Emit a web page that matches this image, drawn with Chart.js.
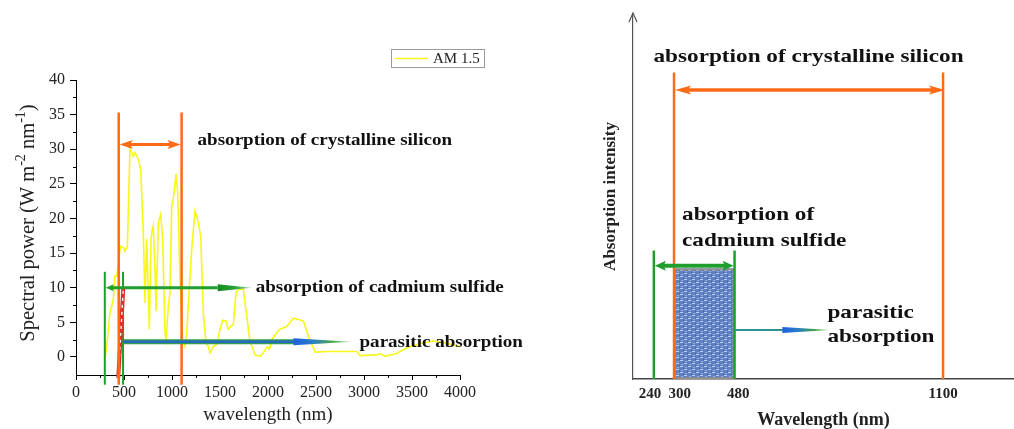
<!DOCTYPE html>
<html>
<head>
<meta charset="utf-8">
<script src="https://cdn.jsdelivr.net/npm/chart.js@4.4.1/dist/chart.umd.min.js"></script>
<style>
  html, body { margin: 0; padding: 0; background: #fff; }
  body { width: 1014px; height: 429px; position: relative; overflow: hidden; }
  canvas { position: absolute; top: 0; }
  #spectrum { left: 0; }
  #schematic { left: 560px; }
</style>
</head>
<body>
<canvas id="spectrum" width="560" height="429"></canvas>
<canvas id="schematic" width="454" height="429"></canvas>
<script>
const FONT = "'Liberation Serif', 'Times New Roman', serif";

// AM 1.5 spectrum (nm, W m-2 nm-1)
const wavelength = [305, 320, 354, 389, 406, 424, 458, 465, 493, 510, 535, 562, 580, 597, 615, 649, 674,
  701, 719, 736, 764, 781, 794, 805, 823, 833, 858, 882, 903, 927, 938, 962, 979, 997, 1014, 1042,
  1059, 1083, 1111, 1135, 1153, 1205, 1240, 1274, 1299, 1326, 1354, 1378, 1396, 1430, 1466, 1500,
  1528, 1562, 1587, 1611, 1639, 1667, 1691, 1743, 1812, 1865, 1917, 1951, 1993, 2014, 2038, 2090,
  2125, 2194, 2264, 2316, 2368, 2420, 2490, 2611, 2924, 2958, 3132, 3167, 3219, 3340, 3375, 3479,
  3583, 3722, 3861, 4000];
const spectralPower = [0.1, 1.5, 6.4, 8.3, 11.7, 11.7, 15.5, 16, 15.8, 15.3, 16, 30, 29.6, 29, 29.5, 28.6, 27.1,
  18, 7.8, 17, 4, 17, 18.4, 18.9, 12.7, 6.6, 19.4, 20.6, 17, 3.5, 2.5, 7.3, 9.3, 21.8, 22.8, 26.4,
  23.8, 11.2, 2.5, 1.5, 3.5, 15.5, 21.1, 19.4, 17.5, 6.4, 2, 1.5, 0.6, 1.5, 1.8, 4,
  5.3, 5.2, 4, 4.4, 4.7, 9.3, 9.8, 9.8, 2.3, 0.3, 0.1, 0.6, 1.5, 1.1, 2.5, 3.5,
  4, 4.4, 5.6, 5.4, 5.2, 3, 0.7, 0.8, 0.8, 0.2, 0.3, 0.5, 0.1, 0.5, 0.8, 1.5,
  1.9, 2.3, 2.0, 1.5];
const yTicksLeft = [0, 5, 10, 15, 20, 25, 30, 35, 40];

// left panel markers (nm / W m-2 nm-1)
const siliconSpan = [445, 1100];
const siliconArrowLevel = 30.7;
const siliconLineTop = 35.3;
const cdsSpan = [300, 490];
const cdsArrowLevel = 10;
const cdsLineTop = 12.3;
const cdsArrowEnd = 1830;
const parasiticLevel = 2.2;
const parasiticEnd = 2870;
const markerBottom = -4;
const hatchFrom = [440, -3];
const hatchTo = [493, 10];

// right panel (schematic, wavelength in nm, intensity in arbitrary units)
const rightTicks = [240, 300, 480, 1100];
const rightTickText = {240: '240  ', 300: '   300', 480: '  480', 1100: '1100'};
const rSilicon = [300, 1100];
const rSiliconTop = 84;
const rSiliconArrow = 79.2;
const rCds = [240, 480];
const rCdsTop = 35.2;
const rCdsArrow = 31;
const rBand = [300, 480];
const rBandTop = 30.3;
const rParasiticLevel = 13.4;
const rParasiticEnd = 765;

const ORANGE = '#ff6a16';
const GREEN = '#1f9e2c';
const STRETCH = 1.19; // the bold labels in the figure are drawn wide

function line(ctx, x1, y1, x2, y2) {
  ctx.beginPath(); ctx.moveTo(x1, y1); ctx.lineTo(x2, y2); ctx.stroke();
}

function wideText(ctx, text, x, y) {
  ctx.save();
  ctx.translate(x, y);
  ctx.scale(STRETCH, 1);
  ctx.fillText(text, 0, 0);
  ctx.restore();
}

function head(ctx, tipX, y, dir, len, half, fill) {
  ctx.beginPath();
  ctx.moveTo(tipX, y);
  ctx.lineTo(tipX - dir * len, y - half);
  ctx.lineTo(tipX - dir * len * 0.8, y);
  ctx.lineTo(tipX - dir * len, y + half);
  ctx.closePath();
  ctx.fillStyle = fill;
  ctx.fill();
}

function taperHead(ctx, x1, x2, y, half, stops) {
  const g = ctx.createLinearGradient(x1, 0, x2, 0);
  stops.forEach((c, i) => g.addColorStop(i / (stops.length - 1), c));
  ctx.beginPath();
  ctx.moveTo(x1, y - half);
  ctx.lineTo(x2, y);
  ctx.lineTo(x1, y + half);
  ctx.closePath();
  ctx.fillStyle = g;
  ctx.fill();
}

const leftMarks = {
  id: 'leftMarks',
  afterDraw(chart) {
    const {ctx, scales: {x, y}} = chart;
    const X = v => x.getPixelForValue(v);
    const Y = v => y.getPixelForValue(v);
    ctx.save();

    // minor ticks
    ctx.strokeStyle = '#000';
    ctx.lineWidth = 1;
    for (let v = 250; v < 4000; v += 500) line(ctx, Math.round(X(v)) + 0.5, y.bottom, Math.round(X(v)) + 0.5, y.bottom + 3);
    for (let v = 2.5; v < 40; v += 5) line(ctx, x.left - 3, Math.round(Y(v)) + 0.5, x.left, Math.round(Y(v)) + 0.5);

    // green (CdS) markers
    ctx.strokeStyle = GREEN;
    ctx.lineWidth = 2;
    cdsSpan.forEach(v => line(ctx, X(v), Y(cdsLineTop), X(v), Y(markerBottom)));

    // hatched strip
    ctx.lineWidth = 4;
    ctx.strokeStyle = '#d8322a';
    line(ctx, X(hatchFrom[0]), Y(hatchFrom[1]), X(hatchTo[0]), Y(hatchTo[1]));
    ctx.lineWidth = 1.3;
    ctx.strokeStyle = '#fff';
    ctx.setLineDash([3, 4]);
    line(ctx, X(hatchFrom[0]), Y(hatchFrom[1]), X(hatchTo[0]), Y(hatchTo[1]));
    ctx.setLineDash([]);

    // orange (silicon) markers
    ctx.strokeStyle = ORANGE;
    ctx.lineWidth = 2.5;
    siliconSpan.forEach(v => line(ctx, X(v), Y(siliconLineTop), X(v), Y(markerBottom)));
    const sy = Y(siliconArrowLevel);
    ctx.lineWidth = 3;
    line(ctx, X(siliconSpan[0]) + 8, sy, X(siliconSpan[1]) - 8, sy);
    head(ctx, X(siliconSpan[0]) + 1, sy, -1, 13, 4.5, ORANGE);
    head(ctx, X(siliconSpan[1]) - 1, sy, 1, 13, 4.5, ORANGE);

    // CdS arrow
    const cy = Y(cdsArrowLevel);
    const cEnd = X(cdsArrowEnd);
    ctx.strokeStyle = GREEN;
    ctx.lineWidth = 3;
    line(ctx, X(cdsSpan[0]) + 6, cy, cEnd - 34, cy);
    head(ctx, X(cdsSpan[0]) + 1, cy, -1, 8, 3.5, GREEN);
    taperHead(ctx, cEnd - 34, cEnd, cy, 3.5, ['#138a1c', '#2aa33a', '#a6dca6']);

    // parasitic arrow
    const py = Y(parasiticLevel);
    const pEnd = X(parasiticEnd);
    ctx.lineWidth = 5;
    ctx.strokeStyle = '#2f9f4a';
    line(ctx, X(cdsSpan[1]), py, pEnd - 56, py);
    ctx.lineWidth = 2.5;
    ctx.strokeStyle = '#2a69c2';
    line(ctx, X(cdsSpan[1]), py, pEnd - 56, py);
    taperHead(ctx, pEnd - 58, pEnd, py, 3.5, ['#1f5fe0', '#2a7fc4', '#4aa84a', '#b5e0b5']);

    // labels
    ctx.fillStyle = '#111';
    ctx.font = 'bold 16px ' + FONT;
    ctx.textBaseline = 'middle';
    ctx.textAlign = 'left';
    wideText(ctx, 'absorption of crystalline silicon', X(siliconSpan[1]) + 16, sy - 3.5);
    wideText(ctx, 'absorption of cadmium sulfide', cEnd + 4, cy);
    wideText(ctx, 'parasitic absorption', pEnd + 8, py + 1);

    // legend
    ctx.strokeStyle = '#9a9a9a';
    ctx.lineWidth = 1;
    ctx.strokeRect(391.5, 49.5, 93, 18);
    ctx.strokeStyle = chart.data.datasets[0].borderColor;
    ctx.lineWidth = 1.5;
    line(ctx, 395, 58.5, 428, 58.5);
    ctx.font = '15px ' + FONT;
    ctx.fillStyle = '#222';
    ctx.fillText(chart.data.datasets[0].label, 433, 59);

    // y title with superscripts
    const parts = [['Spectral power (W m', 0], ['-2', 1], [' nm', 0], ['-1', 1], [')', 0]];
    const big = '20.5px ' + FONT, small = '14px ' + FONT;
    let total = 0;
    parts.forEach(([t, s]) => { ctx.font = s ? small : big; total += ctx.measureText(t).width; });
    ctx.translate(29, 223);
    ctx.rotate(-Math.PI / 2);
    let pos = -total / 2;
    parts.forEach(([t, s]) => {
      ctx.font = s ? small : big;
      ctx.fillText(t, pos, s ? -7.5 : 0);
      pos += ctx.measureText(t).width;
    });
    ctx.restore();
  }
};

new Chart(document.getElementById('spectrum'), {
  type: 'line',
  data: {
    datasets: [{
      label: 'AM 1.5',
      data: wavelength.map((w, i) => ({x: w, y: spectralPower[i]})),
      borderColor: '#f7f71c',
      borderWidth: 1.6,
      pointRadius: 0,
      tension: 0,
      fill: false
    }]
  },
  options: {
    responsive: false,
    animation: false,
    layout: {padding: {left: 0, top: 80, right: 100, bottom: 0}},
    plugins: {legend: {display: false}, tooltip: {enabled: false}},
    scales: {
      x: {
        type: 'linear',
        min: 0,
        max: 4000,
        afterFit: s => { s.height = 54; },
        border: {display: true, color: '#000', width: 1},
        grid: {drawOnChartArea: false, tickLength: 5, tickColor: '#000'},
        ticks: {stepSize: 500, padding: 3, color: '#222', font: {family: FONT, size: 16}, maxRotation: 0,
          callback: v => String(v)},
        title: {display: true, text: 'wavelength (nm)', color: '#222', font: {family: FONT, size: 19}, padding: {top: 0, bottom: 3}}
      },
      y: {
        min: -2.6,
        max: 40,
        afterFit: s => { s.width = 76; },
        afterBuildTicks: s => { s.ticks = yTicksLeft.map(v => ({value: v})); },
        border: {display: true, color: '#000', width: 1},
        grid: {drawOnChartArea: false, tickLength: 6, tickColor: '#000'},
        ticks: {padding: 5, color: '#222', font: {family: FONT, size: 16}}
      }
    }
  },
  plugins: [leftMarks]
});

function texture(ctx) {
  const c = document.createElement('canvas');
  c.width = 8; c.height = 6;
  const g = c.getContext('2d');
  g.fillStyle = '#5f80c2'; g.fillRect(0, 0, 8, 6);
  g.fillStyle = '#bccff0'; g.fillRect(0, 0, 3, 1); g.fillRect(4, 3, 3, 1);
  g.fillStyle = '#93ade0'; g.fillRect(5, 1, 2, 1); g.fillRect(1, 4, 2, 1);
  g.fillStyle = '#3f5f9f'; g.fillRect(3, 2, 1, 1); g.fillRect(7, 5, 1, 1);
  return ctx.createPattern(c, 'repeat');
}

const rightMarks = {
  id: 'rightMarks',
  afterDraw(chart) {
    const {ctx, scales: {x, y}} = chart;
    const X = v => x.getPixelForValue(v);
    const Y = v => y.getPixelForValue(v);
    ctx.save();

    // y axis arrow
    ctx.strokeStyle = '#555';
    ctx.lineWidth = 1.2;
    ctx.beginPath();
    ctx.moveTo(x.left - 4, y.top + 8);
    ctx.lineTo(x.left, y.top - 1);
    ctx.lineTo(x.left + 4, y.top + 8);
    ctx.stroke();

    // CdS band
    ctx.fillStyle = texture(ctx);
    ctx.fillRect(X(rBand[0]), Y(rBandTop), X(rBand[1]) - X(rBand[0]), Y(0) - Y(rBandTop));
    ctx.strokeStyle = '#8d8d8d';
    ctx.lineWidth = 2;
    ctx.strokeRect(X(rBand[0]) + 1, Y(rBandTop) + 1, X(rBand[1]) - X(rBand[0]) - 2, Y(0) - Y(rBandTop) - 2);

    // silicon markers
    ctx.strokeStyle = ORANGE;
    ctx.lineWidth = 2.5;
    rSilicon.forEach(v => line(ctx, X(v), Y(rSiliconTop), X(v), Y(0)));
    const sy = Y(rSiliconArrow);
    ctx.lineWidth = 3.5;
    line(ctx, X(rSilicon[0]) + 10, sy, X(rSilicon[1]) - 10, sy);
    head(ctx, X(rSilicon[0]) + 1, sy, -1, 16, 4.5, ORANGE);
    head(ctx, X(rSilicon[1]) + 2, sy, 1, 16, 4.5, ORANGE);

    // CdS markers
    ctx.strokeStyle = GREEN;
    ctx.lineWidth = 2.5;
    rCds.forEach(v => line(ctx, X(v), Y(rCdsTop), X(v), Y(0)));
    const cy = Y(rCdsArrow);
    ctx.lineWidth = 4;
    line(ctx, X(rCds[0]) + 8, cy, X(rCds[1]) - 8, cy);
    head(ctx, X(rCds[0]) + 1, cy, -1, 11, 5, GREEN);
    head(ctx, X(rCds[1]) - 1, cy, 1, 11, 5, GREEN);

    // parasitic arrow
    const py = Y(rParasiticLevel);
    const pEnd = X(rParasiticEnd);
    ctx.strokeStyle = '#2f8f95';
    ctx.lineWidth = 2;
    line(ctx, X(rBand[1]), py, pEnd - 46, py);
    taperHead(ctx, pEnd - 48, pEnd, py, 3, ['#1f5fe0', '#2a7fc4', '#3aa34a', '#a8dca8']);

    // labels
    ctx.fillStyle = '#111';
    ctx.font = 'bold 19.5px ' + FONT;
    ctx.textBaseline = 'middle';
    ctx.textAlign = 'center';
    wideText(ctx, 'absorption of crystalline silicon', (X(rSilicon[0]) + X(rSilicon[1])) / 2, Y(rSiliconTop) - 15);
    ctx.textAlign = 'left';
    const cx = X(rBand[0]) + 8, ct = Y(rCdsTop);
    wideText(ctx, 'absorption of', cx, ct - 36);
    wideText(ctx, 'cadmium sulfide', cx, ct - 10);
    wideText(ctx, 'parasitic', pEnd - 3, py - 17);
    wideText(ctx, 'absorption', pEnd - 3, py + 7);
    ctx.restore();
  }
};

new Chart(document.getElementById('schematic'), {
  type: 'line',
  data: {datasets: []},
  options: {
    responsive: false,
    animation: false,
    layout: {padding: {left: 0, top: 14, right: 0, bottom: 0}},
    plugins: {legend: {display: false}, tooltip: {enabled: false}},
    scales: {
      x: {
        type: 'linear',
        min: 178,
        max: 1311,
        afterFit: s => { s.height = 50; },
        afterBuildTicks: s => { s.ticks = rightTicks.map(v => ({value: v})); },
        border: {display: true, color: '#444', width: 1.5},
        grid: {display: false, drawTicks: false},
        ticks: {padding: 6, color: '#222', font: {family: FONT, size: 15, weight: 'bold'}, maxRotation: 0, autoSkip: false,
          callback: v => rightTickText[v]},
        title: {display: true, text: 'Wavelength (nm)', color: '#222', font: {family: FONT, size: 18, weight: 'bold', lineHeight: 1}, padding: {top: 0, bottom: 0}}
      },
      y: {
        min: 0,
        max: 100,
        afterFit: s => { s.width = 73; },
        border: {display: true, color: '#555', width: 1.2},
        grid: {display: false, drawTicks: false},
        ticks: {display: false},
        title: {display: true, text: 'Absorption intensity', color: '#222', font: {family: FONT, size: 17, weight: 'bold', lineHeight: 1}, padding: {top: 42, bottom: 0}}
      }
    }
  },
  plugins: [rightMarks]
});
</script>
</body>
</html>
